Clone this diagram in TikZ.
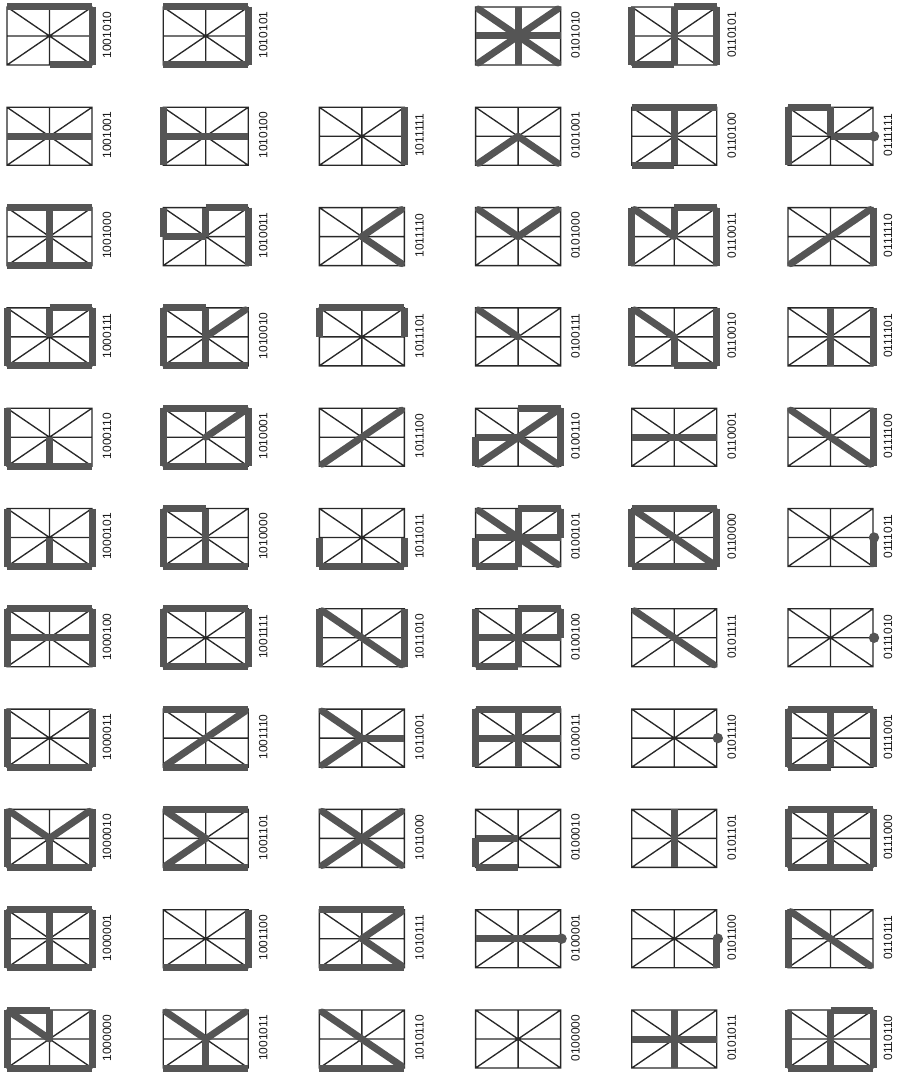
\documentclass[tikz,border=0pt]{standalone}
\usepackage{fontspec}
\setsansfont{Liberation Sans}
\usepackage{xcolor}
\definecolor{bargray}{RGB}{85, 85, 85}
\definecolor{linegray}{RGB}{40, 40, 40}
\definecolor{textgray}{RGB}{25, 25, 25}

\tikzset{
  gridline/.style={draw=linegray, line width=1.35pt},
  barseg/.style={draw=bargray, line width=7pt, line cap=square},
  diagseg/.style={draw=bargray, line width=7pt, line cap=round, shorten >=3.5pt},
  codelabel/.style={font=\sffamily\fontsize{12}{12}\selectfont, text=textgray,
    rotate=90, inner sep=0pt}
}

% one segment of the glyph frame (85 x 58, centre at 42.5,29)
\newcommand\defseg[3]{\expandafter\def\csname seg#1\endcsname{\draw[#2] #3;}}
\defseg{t1}{barseg}{(0,0) -- (42.5,0)}
\defseg{t2}{barseg}{(42.5,0) -- (85,0)}
\defseg{b1}{barseg}{(0,58) -- (42.5,58)}
\defseg{b2}{barseg}{(42.5,58) -- (85,58)}
\defseg{l1}{barseg}{(0,0) -- (0,29)}
\defseg{l2}{barseg}{(0,29) -- (0,58)}
\defseg{r1}{barseg}{(85,0) -- (85,29)}
\defseg{r2}{barseg}{(85,29) -- (85,58)}
\defseg{hl}{barseg}{(0,29) -- (42.5,29)}
\defseg{hr}{barseg}{(42.5,29) -- (85,29)}
\defseg{vu}{barseg}{(42.5,0) -- (42.5,29)}
\defseg{vd}{barseg}{(42.5,29) -- (42.5,58)}
\defseg{ul}{diagseg}{(42.5,29) -- (0,0)}
\defseg{ur}{diagseg}{(42.5,29) -- (85,0)}
\defseg{ll}{diagseg}{(42.5,29) -- (0,58)}
\defseg{lr}{diagseg}{(42.5,29) -- (85,58)}
\expandafter\def\csname segdot\endcsname{\fill[bargray] (86,29) circle (5.2pt);}

% column, row, code, lit segments
\newcommand\glyph[4]{%
  \begin{scope}[shift={({7+156.2*(#1-1)},{7+100.3*(#2-1)})}]
    \draw[gridline] (0,0) rectangle (85,58)
      (0,29) -- (85,29) (42.5,0) -- (42.5,58)
      (0,0) -- (85,58) (0,58) -- (85,0);
    \foreach \s in {#4} {\csname seg\s\endcsname}
    \node[codelabel] (c#3) at (100,28) {#3};
  \end{scope}}

\begin{document}
\begin{tikzpicture}[x=1pt, y=-1pt]
  \useasboundingbox (0,0) rectangle (905,1075);

  % row 1
  \glyph{1}{1}{1001010}{t1,t2,r1,r2,b2}
  \glyph{2}{1}{1010101}{t1,t2,r1,r2,b1,b2}
  \glyph{4}{1}{0101010}{ul,ur,ll,lr,hl,hr,vu,vd}
  \glyph{5}{1}{0110101}{l1,l2,b1,vu,vd,t2,r1,r2}

  % row 2
  \glyph{1}{2}{1001001}{hl,hr}
  \glyph{2}{2}{1010100}{l1,l2,hl,hr}
  \glyph{3}{2}{1011111}{r1,r2}
  \glyph{4}{2}{0101001}{ll,lr}
  \glyph{5}{2}{0110100}{t1,t2,vu,vd,b1}
  \glyph{6}{2}{0111111}{l1,l2,t1,vu,hr,dot}

  % row 3
  \glyph{1}{3}{1001000}{t1,t2,vu,vd,b1,b2}
  \glyph{2}{3}{1010011}{l1,hl,vu,t2,r1,r2}
  \glyph{3}{3}{1011110}{ur,lr}
  \glyph{4}{3}{0101000}{ul,ur}
  \glyph{5}{3}{0110011}{l1,l2,ul,vu,t2,r1,r2}
  \glyph{6}{3}{0111110}{ll,ur,r1,r2}

  % row 4
  \glyph{1}{4}{1000111}{l1,l2,b1,b2,vu,t2,r1,r2}
  \glyph{2}{4}{1010010}{l1,l2,t1,vu,vd,ur,b1,b2}
  \glyph{3}{4}{1011101}{t1,t2,l1,r1}
  \glyph{4}{4}{0100111}{ul}
  \glyph{5}{4}{0110010}{l1,l2,ul,vd,b2,r1,r2}
  \glyph{6}{4}{0111101}{vu,vd,r1,r2}

  % row 5
  \glyph{1}{5}{1000110}{l1,l2,b1,b2,vd}
  \glyph{2}{5}{1010001}{t1,t2,l1,l2,r1,r2,b1,b2,ur}
  \glyph{3}{5}{1011100}{ll,ur}
  \glyph{4}{5}{0100110}{t2,r1,r2,ur,ll,lr,hl,l2}
  \glyph{5}{5}{0110001}{hl,hr}
  \glyph{6}{5}{0111100}{ul,lr,r1,r2}

  % row 6
  \glyph{1}{6}{1000101}{l1,l2,r1,r2,b1,b2,vd}
  \glyph{2}{6}{1010000}{t1,l1,l2,vu,vd,b1,b2}
  \glyph{3}{6}{1011011}{l2,r2,b1,b2}
  \glyph{4}{6}{0100101}{ul,t2,r1,hl,hr,l2,b1,vu,vd,lr}
  \glyph{5}{6}{0110000}{t1,t2,l1,l2,r1,r2,b1,b2,ul,lr}
  \glyph{6}{6}{0111011}{r2,dot}

  % row 7
  \glyph{1}{7}{1000100}{t1,t2,l1,l2,r1,r2,hl,hr}
  \glyph{2}{7}{1001111}{t1,t2,l1,l2,r1,r2,b1,b2}
  \glyph{3}{7}{1011010}{l1,l2,r1,r2,ul,lr}
  \glyph{4}{7}{0100100}{l1,l2,b1,hl,hr,vu,vd,t2,r1}
  \glyph{5}{7}{0101111}{ul,lr}
  \glyph{6}{7}{0111010}{dot}

  % row 8
  \glyph{1}{8}{1000011}{l1,l2,r1,r2,b1,b2}
  \glyph{2}{8}{1001110}{t1,t2,ll,ur,b1,b2}
  \glyph{3}{8}{1011001}{ul,ll,hr}
  \glyph{4}{8}{0100011}{t1,t2,l1,l2,hl,hr,vu,vd}
  \glyph{5}{8}{0101110}{dot}
  \glyph{6}{8}{0111001}{t1,t2,l1,l2,r1,r2,b1,vu,vd}

  % row 9
  \glyph{1}{9}{1000010}{l1,l2,r1,r2,b1,b2,ul,ur,vd}
  \glyph{2}{9}{1001101}{t1,t2,b1,b2,ul,ll}
  \glyph{3}{9}{1011000}{ul,ur,ll,lr}
  \glyph{4}{9}{0100010}{hl,l2,b1}
  \glyph{5}{9}{0101101}{vu,vd}
  \glyph{6}{9}{0111000}{t1,t2,l1,l2,r1,r2,b1,b2,vu,vd}

  % row 10
  \glyph{1}{10}{1000001}{t1,t2,l1,l2,r1,r2,b1,b2,vu,vd}
  \glyph{2}{10}{1001100}{b1,b2,r1,r2}
  \glyph{3}{10}{1010111}{t1,t2,ur,lr,b1,b2}
  \glyph{4}{10}{0100001}{hl,hr,dot}
  \glyph{5}{10}{0101100}{r2,dot}
  \glyph{6}{10}{0110111}{l1,l2,ul,lr}

  % row 11
  \glyph{1}{11}{1000000}{t1,l1,l2,ul,vu,r1,r2,b1,b2}
  \glyph{2}{11}{1001011}{ul,ur,vd,b1,b2}
  \glyph{3}{11}{1010110}{ul,lr,b1,b2}
  \glyph{4}{11}{0100000}{}
  \glyph{5}{11}{0101011}{hl,hr,vu,vd}
  \glyph{6}{11}{0110110}{l1,l2,b1,b2,vu,vd,t2,r1,r2}
\end{tikzpicture}
\end{document}
